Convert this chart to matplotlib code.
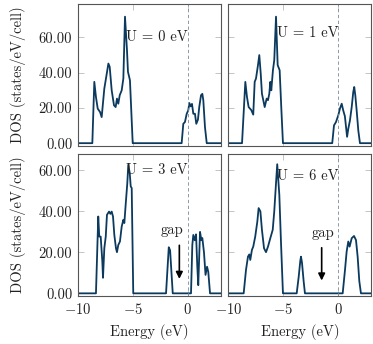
import matplotlib
matplotlib.use('Agg')
import matplotlib.pyplot as plt

# Fonts: Computer Modern look
plt.rcParams['font.family'] = 'serif'
plt.rcParams['font.serif'] = ['cmr10']
plt.rcParams['mathtext.fontset'] = 'cm'
plt.rcParams['axes.formatter.use_mathtext'] = True
plt.rcParams['font.size'] = 10.5

#-----------------------------------------------------------------------------------------------------------
# Data (energy in eV, DOS in states/eV/cell)
u_labels = ['U = 0 eV', 'U = 1 eV', 'U = 3 eV', 'U = 6 eV']

e_u0 = [-10, -8.67, -8.49, -8.34, -8.18, -7.97, -7.82, -7.58, -7.43, -7.21, -7.09, -6.91, -6.7, -6.55,
        -6.43, -6.31, -6.18, -6.0, -5.85, -5.7, -5.52, -5.43, -5.25, -5.0, -0.55, -0.4, -0.25, -0.09,
        0.05, 0.15, 0.27, 0.39, 0.51, 0.66, 0.78, 0.93, 1.05, 1.21, 1.33, 1.42, 1.57, 1.73, 3]
d_u0 = [0, 0, 34.8, 26.2, 19.6, 17.7, 14.8, 31, 36.7, 45.2, 43.3, 30, 21.5, 20.5,
        25.3, 22.4, 27.2, 30, 36.7, 71.8, 52.8, 40.5, 35.7, 0, 0, 11, 12, 16.7,
        18.6, 22.8, 20.9, 22.3, 16.7, 16.7, 11, 13.3, 20.5, 27.2, 28, 24.3, 9.1, 0, 0]

e_u1 = [-10, -8.75, -8.45, -8.3, -8.15, -7.91, -7.73, -7.6, -7.48, -7.3, -7.18, -7.05, -6.94, -6.69,
        -6.51, -6.39, -6.27, -6.18, -6.09, -5.94, -5.82, -5.66, -5.51, -5.33, -5.18, -5.03, -0.55,
        -0.39, -0.21, 0.0, 0.15, 0.31, 0.45, 0.6, 0.8, 0.91, 1.06, 1.22, 1.36, 1.45, 1.55, 1.67,
        1.82, 1.97, 3]
d_u1 = [0, 0, 34.8, 26.2, 20.5, 18.8, 16.2, 34.8, 36.7, 44.3, 50, 39.5, 28.1, 20.5,
        25.3, 24.4, 28.1, 34.8, 30, 41.4, 47.1, 71.8, 44.3, 41.4, 20, 0, 0,
        10.1, 12, 15.8, 19.6, 22.4, 18.6, 15.3, 3.6, 8.2, 12.9, 20.5, 29, 31.9, 27, 18.6,
        7.2, 0, 0]

e_u3 = [-10, -8.34, -8.13, -8.04, -7.91, -7.76, -7.7, -7.58, -7.45, -7.34, -7.15, -7.03, -6.91, -6.79,
        -6.67, -6.52, -6.43, -6.31, -6.16, -6.0, -5.85, -5.76, -5.64, -5.49, -5.4, -5.27, -5.18,
        -5.09, -4.95, -1.97, -1.72, -1.6, -1.36, 0.3, 0.42, 0.51, 0.64, 0.76, 0.87, 0.96, 1.12,
        1.24, 1.33, 1.48, 1.62, 1.76, 1.87, 2.03, 3]
d_u3 = [0, 0, 37.5, 27.7, 27.7, 15.5, 7.6, 22, 27.7, 38.3, 39.9, 38.8, 39.9, 37.5,
        28.5, 22, 20.1, 23.6, 25.3, 32.6, 35.9, 34.3, 43.2, 53.8, 62.8, 58.7, 52.2,
        51.4, 0, 0, 22.5, 21, 0, 0, 23.6, 28.5, 25.9, 28.8, 13.4, 4, 30,
        26, 27, 20, 9, 13, 10.5, 0, 0]

e_u6 = [-10, -8.6, -8.39, -8.21, -8.09, -8.0, -7.85, -7.73, -7.55, -7.36, -7.24, -7.08, -6.94, -6.75,
        -6.57, -6.39, -6.18, -5.96, -5.82, -5.66, -5.55, -5.36, -5.21, -5.03, -3.78, -3.6, -3.45,
        -3.39, -3.3, -3.15, -3.03, 0.4, 0.61, 0.76, 0.91, 1.03, 1.22, 1.43, 1.61, 1.76, 1.91, 2.06, 3]
d_u6 = [0, 0, 11.4, 17.9, 19, 16.3, 21.2, 22.8, 27.7, 35, 41.6, 40, 31, 22,
        20.1, 22.8, 26.9, 31, 40, 53.8, 63, 48.1, 25.2, 0, 0, 8, 16,
        17.9, 15, 6, 0, 0, 11.4, 20.4, 25.3, 22.8, 26.9, 28, 26, 17.9, 6, 0, 0]

energies = [e_u0, e_u1, e_u3, e_u6]
dos = [d_u0, d_u1, d_u3, d_u6]

# label positions (energy, DOS)
u_label_y = [60, 62.3, 60, 57]
u_label_x = -2.8
gap_text = {2: (-1.4, 31), 3: (-1.4, 29.4)}
gap_arrow = {2: (-0.76, 24.8, 5.7), 3: (-1.51, 23.6, 4.9)}

xticks = [-10, -5, 0]
xtick_labels = [r'$-10$', r'$-5$', r'$0$']
yticks = [0, 20, 40, 60]
ytick_labels = ['%.2f' % v for v in yticks]

line_color = '#0b3a5e'

#-----------------------------------------------------------------------------------------------------------
fig = plt.figure(figsize=(3.73, 3.44), dpi=100)

lefts = [0.2083, 0.612]
bottoms = [0.5756, 0.1395]
w, h = 0.3834, 0.4128
ylims = [(-1.6, 79), (-1.3, 68)]

for i in range(4):
    row, col = i // 2, i % 2
    ax = fig.add_axes([lefts[col], bottoms[row], w, h])

    ax.plot(energies[i], dos[i], color=line_color, lw=1.3, solid_joinstyle='round')
    ax.axvline(0, color='#7a8a99', lw=0.6, ls=(0, (4, 3)))

    ax.text(u_label_x, u_label_y[i], u_labels[i], ha='center', va='center', color='#222222')

    if i in gap_text:
        gx, gy = gap_text[i]
        ax.text(gx, gy, 'gap', ha='center', va='center', color='#222222')
        ax_x, y0, y1 = gap_arrow[i]
        ax.annotate('', xy=(ax_x, y1), xytext=(ax_x, y0),
                    arrowprops=dict(arrowstyle='-|>', color='black', lw=1.2, mutation_scale=10))

    ax.set_xlim(-10, 3)
    ax.set_ylim(*ylims[row])
    ax.set_xticks(xticks)
    ax.set_yticks(yticks)

    for s in ax.spines.values():
        s.set_color('#555555')
        s.set_linewidth(0.8)
    ax.tick_params(direction='in', length=4, width=0.6, color='#bbbbbb',
                   top=True, right=True, pad=4, labelcolor='#222222')

    if row == 1:
        ax.set_xticklabels(xtick_labels)
        ax.set_xlabel('Energy (eV)', color='#222222', labelpad=5)
    else:
        ax.set_xticklabels([])
    if col == 0:
        ax.set_yticklabels(ytick_labels)
        ax.set_ylabel('DOS (states/eV/cell)', color='#222222', labelpad=9)
    else:
        ax.set_yticklabels([])

plt.savefig('out.png', dpi=100)
